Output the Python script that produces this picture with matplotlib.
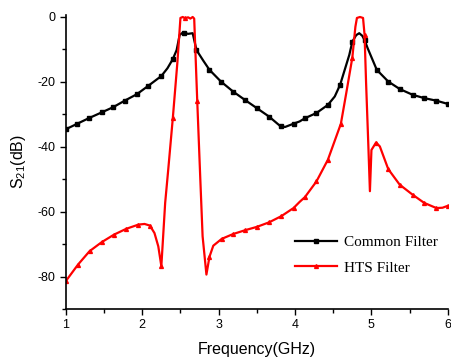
import numpy as np
import matplotlib
matplotlib.use("Agg")
import matplotlib.pyplot as plt
from matplotlib.ticker import MultipleLocator

plt.rcParams['axes.unicode_minus'] = False
plt.rcParams['font.family'] = ['Liberation Sans', 'DejaVu Sans']
plt.rcParams['mathtext.fontset'] = 'custom'
plt.rcParams['mathtext.rm'] = 'Liberation Sans'
plt.rcParams['mathtext.it'] = 'Liberation Sans:italic'

# Common Filter
x_common = [1.0, 1.15, 1.30, 1.47, 1.62, 1.77, 1.93, 2.08, 2.25, 2.33, 2.40, 2.45, 2.49, 2.52,
            2.55, 2.60, 2.66, 2.71, 2.80, 2.88, 3.03, 3.19, 3.34, 3.50, 3.66, 3.81, 3.87, 3.98,
            4.06, 4.13, 4.28, 4.43, 4.52, 4.59, 4.65, 4.71, 4.75, 4.80, 4.84, 4.88, 4.91, 4.95,
            5.07, 5.22, 5.37, 5.54, 5.69, 5.85, 6.0]
y_common = [-34.6, -32.9, -31.2, -29.4, -27.8, -25.8, -23.8, -21.2, -18.2, -15.8, -13.0, -10.2, -5.5, -5.0,
            -4.9, -5.2, -5.0, -10.2, -13.5, -16.3, -19.9, -23.0, -25.5, -28.1, -30.7, -33.7, -33.9, -32.9,
            -32.2, -31.2, -29.6, -27.1, -24.5, -20.9, -16.3, -11.7, -7.6, -5.6, -5.0, -5.8, -7.1, -9.6,
            -16.3, -19.9, -22.2, -24.0, -25.0, -25.8, -26.8]
mark_common = [1.0, 1.15, 1.30, 1.47, 1.62, 1.77, 1.93, 2.08, 2.25, 2.40, 2.55, 2.71, 2.88, 3.03,
               3.19, 3.34, 3.50, 3.66, 3.81, 3.98, 4.13, 4.28, 4.43, 4.59, 4.75, 4.91, 5.07, 5.22,
               5.37, 5.54, 5.69, 5.85, 6.0]

# HTS Filter
x_hts = [1.0, 1.16, 1.31, 1.47, 1.63, 1.79, 1.95, 2.03, 2.10, 2.16, 2.21, 2.25, 2.30, 2.34, 2.40,
         2.46, 2.50, 2.53, 2.56, 2.60, 2.63, 2.66, 2.68, 2.72, 2.76, 2.79, 2.84, 2.88, 2.93, 3.04,
         3.19, 3.35, 3.50, 3.66, 3.82, 3.98, 4.06, 4.13, 4.28, 4.43, 4.60, 4.67, 4.75, 4.79, 4.81,
         4.85, 4.89, 4.91, 4.93, 4.96, 4.98, 5.00, 5.06, 5.11, 5.22, 5.37, 5.54, 5.69, 5.85, 5.93, 6.0]
y_hts = [-81.4, -76.3, -72.2, -69.4, -67.1, -65.3, -64.0, -63.8, -64.3, -66.6, -70.7, -76.8, -57.3, -47.1, -31.2,
         -14.0, -0.3, 0.0, -0.4, -0.1, -0.5, 0.0, -0.5, -26.0, -50.0, -67.6, -79.4, -73.9, -70.5, -68.4,
         -66.9, -65.7, -64.7, -63.3, -61.4, -58.9, -57.0, -55.5, -50.7, -44.0, -32.9, -23.5, -12.5, -3.0, -0.3,
         0.0, -0.3, -5.5, -20.4, -40.0, -53.7, -41.0, -38.7, -39.9, -46.9, -51.7, -54.8, -57.3, -58.9, -58.8, -58.2]
mark_hts = [1.0, 1.16, 1.31, 1.47, 1.63, 1.79, 1.95, 2.10, 2.25, 2.40, 2.56, 2.72, 2.88, 3.04,
            3.19, 3.35, 3.50, 3.66, 3.82, 3.98, 4.13, 4.28, 4.43, 4.60, 4.75, 4.91, 5.06, 5.22,
            5.37, 5.54, 5.69, 5.85, 6.0]

labels = ["Common Filter", "HTS Filter"]


def mark_idx(xs, marks):
    xs = np.asarray(xs)
    return [int(np.argmin(np.abs(xs - m))) for m in marks]


fig = plt.figure(figsize=(4.51, 3.58), dpi=100)
ax = fig.add_axes([0.146, 0.137, 0.847, 0.821])

ax.plot(x_common, y_common, color='black', lw=1.6, marker='s', ms=2.4,
        markevery=mark_idx(x_common, mark_common), label=labels[0])
ax.plot(x_hts, y_hts, color='red', lw=1.6, marker='^', ms=2.8,
        markevery=mark_idx(x_hts, mark_hts), label=labels[1])

ax.set_xlim(1, 6)
ax.set_ylim(-90, 0.6)
ax.xaxis.set_major_locator(MultipleLocator(1))
ax.xaxis.set_minor_locator(MultipleLocator(0.5))
ax.yaxis.set_major_locator(MultipleLocator(20))
ax.yaxis.set_minor_locator(MultipleLocator(10))
ax.tick_params(which='both', direction='out', labelsize=9, width=1)
ax.tick_params(which='major', length=4)
ax.tick_params(which='minor', length=3)
for s in ['top', 'right']:
    ax.spines[s].set_visible(False)
for s in ['left', 'bottom']:
    ax.spines[s].set_linewidth(1.2)

ax.set_xlabel("Frequency(GHz)", fontsize=11.5, labelpad=8)
ax.set_ylabel("S$_{21}$(dB)", fontsize=11.5, labelpad=7)

leg = ax.legend(loc='upper left', bbox_to_anchor=(0.585, 0.27), frameon=False,
                prop={'family': 'Liberation Serif', 'size': 11},
                handlelength=2.7, handletextpad=0.5, labelspacing=0.76, borderaxespad=0)

fig.savefig("out.png", dpi=100)
